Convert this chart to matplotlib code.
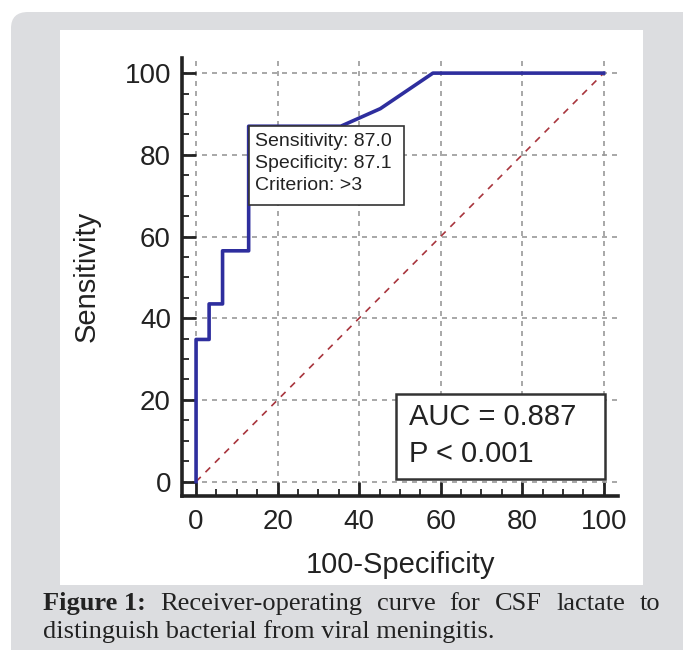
import numpy as np
import matplotlib.pyplot as plt
from matplotlib.patches import FancyBboxPatch, Rectangle
from matplotlib.ticker import MultipleLocator

plt.rcParams['font.family'] = ['Liberation Sans', 'DejaVu Sans']

# ROC puntos (100-Especificidad, Sensibilidad)
fpr = [0, 0, 3.2, 3.2, 6.5, 6.5, 12.9, 12.9, 35.5, 45.2, 58.1, 100]
tpr = [0, 34.8, 34.8, 43.5, 43.5, 56.5, 56.5, 87.0, 87.0, 91.3, 100, 100]
diag = [0, 100]
ticks = [0, 20, 40, 60, 80, 100]
punto = (12.9, 87.0)
info_txt = ["Sensitivity: 87.0", "Specificity: 87.1", "Criterion: >3"]
auc_txt = ["AUC = 0.887", "P < 0.001"]

W, H = 683, 650
fig = plt.figure(figsize=(W / 100, H / 100), dpi=100)
fig.patch.set_facecolor('white')

# fondo gris redondeado + zona blanca
fondo = FancyBboxPatch((11 / W, -30 / H), (W + 40 - 11) / W, (H - 12 + 30) / H,
                       boxstyle="round,pad=0,rounding_size=0.025",
                       transform=fig.transFigure, facecolor='#dcdde0',
                       edgecolor='none', zorder=-10)
fig.patches.append(fondo)
fig.patches.append(Rectangle((60 / W, (H - 585) / H), (643 - 60) / W, (585 - 30) / H,
                             transform=fig.transFigure, facecolor='white',
                             edgecolor='none', zorder=-9))

ax = fig.add_axes([182 / W, 154.5 / H, (618 - 182) / W, (592 - 154.5) / H])
ax.set_facecolor('none')

ax.plot(diag, diag, color='#a8353d', linestyle=(0, (4, 4)), linewidth=1.2, zorder=2)
ax.plot(fpr, tpr, color='#2e2e9e', linewidth=2.6, zorder=3)

ax.set_xlim(-3.45, 103.5)
ax.set_ylim(-3.4, 103.7)
ax.set_xticks(ticks)
ax.set_yticks(ticks)
ax.xaxis.set_minor_locator(MultipleLocator(5))
ax.yaxis.set_minor_locator(MultipleLocator(5))
ax.tick_params(which='major', direction='in', length=10, width=2, color='#222222',
               labelsize=20, labelcolor='#222222')
ax.tick_params(which='minor', direction='in', length=5, width=1.3, color='#222222')
ax.tick_params(axis='x', which='major', pad=10)
ax.tick_params(axis='y', which='major', pad=8)
ax.grid(True, which='major', color='#999999', linestyle=(0, (3, 3)), linewidth=1.2)
for s in ['top', 'right']:
    ax.spines[s].set_visible(False)
for s in ['left', 'bottom']:
    ax.spines[s].set_linewidth(2.6)
    ax.spines[s].set_color('#222222')

ax.set_xlabel('100-Specificity', fontsize=21, color='#222222', labelpad=11)
ax.set_ylabel('Sensitivity', fontsize=21, color='#222222', labelpad=17)

# cuadro del punto de corte
ax.add_patch(Rectangle((punto[0], punto[1] - 19.4), 38.0, 19.4, facecolor='white',
                       edgecolor='#333333', linewidth=1.2, zorder=4))
for i, t in enumerate(info_txt):
    ax.text(punto[0] + 1.6, punto[1] - 3.8 - i * 5.3, t, fontsize=14,
            color='#222222', va='center', ha='left', zorder=5)

# cuadro AUC
ax.add_patch(Rectangle((49.1, 0.7), 51.3, 20.8, facecolor='white',
                       edgecolor='#333333', linewidth=1.8, zorder=4))
for i, t in enumerate(auc_txt):
    ax.text(52.3, 15.8 - i * 9.0, t, fontsize=21, color='#222222',
            va='center', ha='left', zorder=5)

# pie de figura (justificado en la primera linea)
serif = ['Liberation Serif', 'DejaVu Serif']
linea1 = [("Figure 1:", 'bold'), ("Receiver-operating", 'normal'), ("curve", 'normal'),
          ("for", 'normal'), ("CSF", 'normal'), ("lactate", 'normal'), ("to", 'normal')]
x0, x1 = 43, 660
fig.canvas.draw()
r = fig.canvas.get_renderer()
objs = []
for w, fw in linea1:
    objs.append(fig.text(x0 / W, (H - 610) / H, w, fontsize=19, family=serif,
                         weight=fw, color='#222222', va='baseline', ha='left'))
anchos = [o.get_window_extent(r).width for o in objs]
hueco = (x1 - x0 - sum(anchos)) / (len(objs) - 1)
xp = x0
for o, a in zip(objs, anchos):
    o.set_x(xp / W)
    xp += a + hueco
fig.text(x0 / W, (H - 638) / H, "distinguish bacterial from viral meningitis.",
         fontsize=19, family=serif, color='#222222', va='baseline', ha='left')

fig.savefig('out.png', dpi=100)
